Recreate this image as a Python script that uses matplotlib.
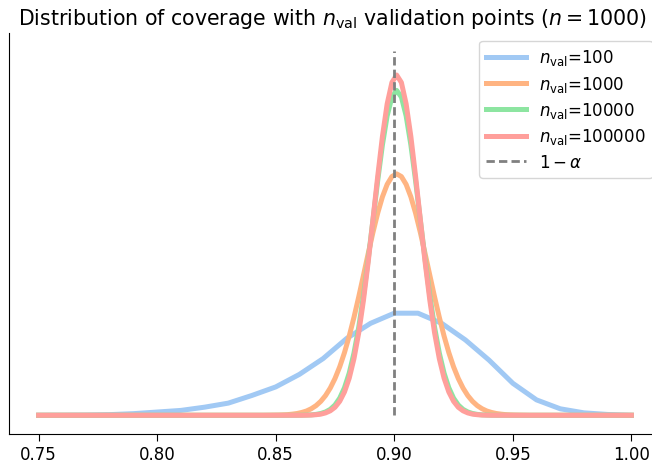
import matplotlib
matplotlib.use("Agg")
import matplotlib.pyplot as plt

# coverage grid for n_val = 100 (steps of 1/100)
cov_coarse = [0.75, 0.76, 0.77, 0.78, 0.79, 0.80, 0.81, 0.82, 0.83, 0.84,
              0.85, 0.86, 0.87, 0.88, 0.89, 0.90, 0.91, 0.92, 0.93, 0.94,
              0.95, 0.96, 0.97, 0.98, 0.99, 1.00]
dens_100 = [0.0, 0.01, 0.03, 0.08, 0.2, 0.4, 0.6, 1.0, 1.5, 2.45,
            3.5, 5.05, 7.0, 9.5, 11.35, 12.6, 12.6, 11.35, 9.3, 6.8,
            3.95, 1.9, 0.8, 0.3, 0.1, 0.0]

# finer coverage grid for the larger validation sets
cov_fine = [0.75,
            0.841, 0.843, 0.845, 0.847, 0.849, 0.851, 0.853, 0.855, 0.857, 0.859,
            0.861, 0.863, 0.865, 0.867, 0.869, 0.871, 0.873, 0.875, 0.877, 0.879,
            0.881, 0.883, 0.885, 0.887, 0.889, 0.891, 0.893, 0.895, 0.897, 0.899,
            0.901,
            0.903, 0.905, 0.907, 0.909, 0.911, 0.913, 0.915, 0.917, 0.919, 0.921,
            0.923, 0.925, 0.927, 0.929, 0.931, 0.933, 0.935, 0.937, 0.939, 0.941,
            0.943, 0.945, 0.947, 0.949, 0.951, 0.953, 0.955, 0.957, 0.959, 0.961,
            1.00]
dens_1000 = [0.0,
             0.0, 0.0, 0.0, 0.01, 0.02, 0.03, 0.05, 0.08, 0.14, 0.22,
             0.35, 0.53, 0.81, 1.19, 1.72, 2.43, 3.36, 4.54, 5.99, 7.74,
             9.78, 12.09, 14.61, 17.27, 19.96, 22.56, 24.94, 26.96, 28.50, 29.47,
             29.80,
             29.47, 28.50, 26.96, 24.94, 22.56, 19.96, 17.27, 14.61, 12.09, 9.78,
             7.74, 5.99, 4.54, 3.36, 2.43, 1.72, 1.19, 0.81, 0.53, 0.35,
             0.22, 0.14, 0.08, 0.05, 0.03, 0.02, 0.01, 0.0, 0.0, 0.0,
             0.0]
dens_10000 = [0.0,
              0.0, 0.0, 0.0, 0.0, 0.0, 0.0, 0.0, 0.0, 0.0, 0.0,
              0.01, 0.03, 0.05, 0.11, 0.22, 0.41, 0.73, 1.27, 2.12, 3.40,
              5.21, 7.68, 10.86, 14.75, 19.24, 24.08, 28.93, 33.37, 36.96, 39.29,
              40.10,
              39.29, 36.96, 33.37, 28.93, 24.08, 19.24, 14.75, 10.86, 7.68, 5.21,
              3.40, 2.12, 1.27, 0.73, 0.41, 0.22, 0.11, 0.05, 0.03, 0.01,
              0.0, 0.0, 0.0, 0.0, 0.0, 0.0, 0.0, 0.0, 0.0, 0.0,
              0.0]
dens_100000 = [0.0,
               0.0, 0.0, 0.0, 0.0, 0.0, 0.0, 0.0, 0.0, 0.0, 0.0,
               0.0, 0.01, 0.03, 0.07, 0.14, 0.29, 0.55, 0.99, 1.73, 2.88,
               4.58, 6.98, 10.17, 14.18, 18.91, 24.14, 29.46, 34.41, 38.44, 41.08,
               42.00,
               41.08, 38.44, 34.41, 29.46, 24.14, 18.91, 14.18, 10.17, 6.98, 4.58,
               2.88, 1.73, 0.99, 0.55, 0.29, 0.14, 0.07, 0.03, 0.01, 0.0,
               0.0, 0.0, 0.0, 0.0, 0.0, 0.0, 0.0, 0.0, 0.0, 0.0,
               0.0]

target = 0.9
line_top = 45.0

fig = plt.figure(figsize=(6.52, 4.64), dpi=100)
ax = fig.add_axes([9 / 652, 29.5 / 464, 652 / 652, 401 / 464])

ax.plot(cov_coarse, dens_100, color='#a1c9f4', lw=3.6, label=r'$n_{\mathrm{val}}$=100')
ax.plot(cov_fine, dens_1000, color='#ffb482', lw=3.6, label=r'$n_{\mathrm{val}}$=1000')
ax.plot(cov_fine, dens_10000, color='#8de5a1', lw=3.6, label=r'$n_{\mathrm{val}}$=10000')
ax.plot(cov_fine, dens_100000, color='#ff9f9b', lw=3.6, label=r'$n_{\mathrm{val}}$=100000')
ax.plot([target, target], [0, line_top], color='gray', ls='--', dashes=(3, 1.5),
        lw=2, label=r'$1-\alpha$')

ax.set_xlim(0.7375, 1.0125)
ax.set_ylim(-2.25, 47.25)
ax.set_xticks([0.75, 0.80, 0.85, 0.90, 0.95, 1.00])
ax.set_yticks([])
ax.tick_params(axis='x', labelsize=12, direction='out', length=5)
for side in ['top', 'right']:
    ax.spines[side].set_visible(False)

ax.set_title(r'Distribution of coverage with $n_{\mathrm{val}}$ validation points ($n=1000$)',
             fontsize=14.8, x=0.4955)
ax.legend(loc='upper right', fontsize=12, handlelength=2.4, labelspacing=0.38)

fig.savefig('out.png', dpi=100)
